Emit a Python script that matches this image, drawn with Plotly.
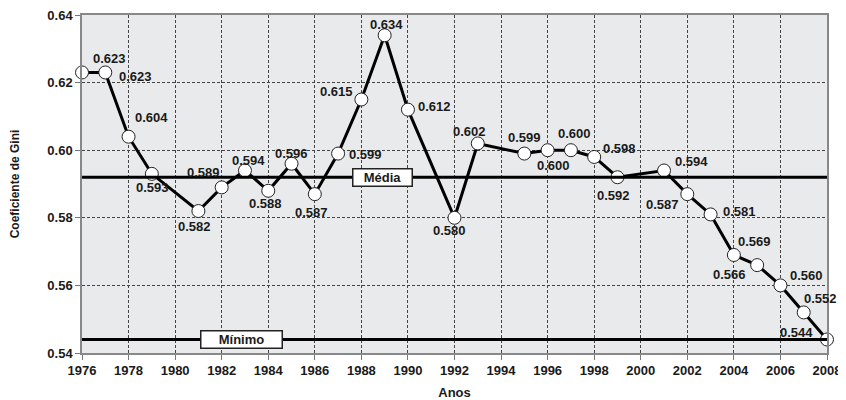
import plotly.graph_objects as go

anos = [1976, 1977, 1978, 1979, 1981, 1982, 1983, 1984, 1985, 1986, 1987, 1988,
        1989, 1990, 1992, 1993, 1995, 1996, 1997, 1998, 1999, 2001, 2002, 2003,
        2004, 2005, 2006, 2007, 2008]
gini = [0.623, 0.623, 0.604, 0.593, 0.582, 0.589, 0.594, 0.588, 0.596, 0.587,
        0.599, 0.615, 0.634, 0.612, 0.580, 0.602, 0.599, 0.600, 0.600, 0.598,
        0.592, 0.594, 0.587, 0.581, 0.569, 0.566, 0.560, 0.552, 0.544]
media = 0.592
minimo = 0.544
y_ticks = [0.54, 0.56, 0.58, 0.60, 0.62, 0.64]
x_ticks = list(range(1976, 2009, 2))

# label offsets in pixels (dx, dy), style only
offsets = [(27, 14), (30, -4), (23, 19), (1, -14), (-4, -15), (-18, 15), (4, 10),
           (-3, -13), (0, 10), (-3, -18), (27, -1), (-25, 8), (2, 11), (27, 3),
           (-5, -13), (-8, 12), (0, 16), (6, -15), (4, 17), (25, 8), (-4, -18),
           (27, 9), (-25, -10), (29, 3), (21, 13), (-28, -9), (26, 10), (17, 14),
           (-31, 7)]

FONT = "Liberation Sans"
TXT = "#1a1a1a"

fig = go.Figure()
fig.add_trace(go.Scatter(
    x=anos, y=gini, mode="lines+markers",
    line=dict(color="black", width=3),
    marker=dict(symbol="circle", size=13, color="white",
                line=dict(color="#222", width=1)),
    cliponaxis=False, showlegend=False, hoverinfo="x+y"))

annotations = []
for x, y, (dx, dy) in zip(anos, gini, offsets):
    annotations.append(dict(x=x, y=y, xref="x", yref="y", text=f"<b>{y:.3f}</b>",
                            showarrow=False, xshift=dx, yshift=dy,
                            font=dict(family=FONT, size=13, color=TXT)))

annotations.append(dict(x=1988.9, y=media, xref="x", yref="y", text="<b>Média</b>",
                        showarrow=False, bgcolor="white", bordercolor="#222",
                        borderwidth=1.5, width=56, height=14, borderpad=1,
                        font=dict(family=FONT, size=13, color=TXT)))
annotations.append(dict(x=1982.85, y=minimo, xref="x", yref="y", text="<b>Mínimo</b>",
                        showarrow=False, bgcolor="white", bordercolor="#222",
                        borderwidth=1.5, width=78, height=14, borderpad=1,
                        font=dict(family=FONT, size=13, color=TXT)))

shapes = []
for val in (media, minimo):
    shapes.append(dict(type="line", xref="x domain", yref="y", x0=0, x1=1,
                       y0=val, y1=val, line=dict(color="black", width=3),
                       layer="above"))

fig.update_layout(
    width=838, height=392,
    margin=dict(l=74, r=19, t=7, b=47),
    paper_bgcolor="white", plot_bgcolor="#e8eaeb",
    font=dict(family=FONT, size=12, color=TXT),
    annotations=annotations, shapes=shapes,
)
fig.update_xaxes(
    range=[1976, 2008], tickvals=x_ticks,
    ticktext=[f"<b>{v}</b>" for v in x_ticks],
    tickfont=dict(family=FONT, size=13, color=TXT),
    showgrid=True, gridcolor="#444", griddash="3px,2px", gridwidth=1,
    showline=True, linecolor="#888", linewidth=1.5, mirror=True,
    ticks="outside", ticklen=5, tickcolor="#777", automargin=False,
    ticklabeloverflow="allow",
    title=dict(text="<b>Anos</b>", font=dict(family=FONT, size=13, color=TXT), standoff=12),
    zeroline=False,
)
fig.update_yaxes(
    range=[0.54, 0.64], tickvals=y_ticks,
    ticktext=[f"<b>{v:.2f}</b>" for v in y_ticks],
    tickfont=dict(family=FONT, size=13, color=TXT),
    showgrid=True, gridcolor="#444", griddash="3px,2px", gridwidth=1,
    showline=True, linecolor="#888", linewidth=1.5, mirror=True,
    ticks="outside", ticklen=5, tickcolor="#777", automargin=False,
    ticklabeloverflow="allow",
    title=dict(text="<b>Coeficiente de Gini</b>", font=dict(family=FONT, size=12, color=TXT), standoff=25),
    zeroline=False,
)

fig.write_html("out.html")
